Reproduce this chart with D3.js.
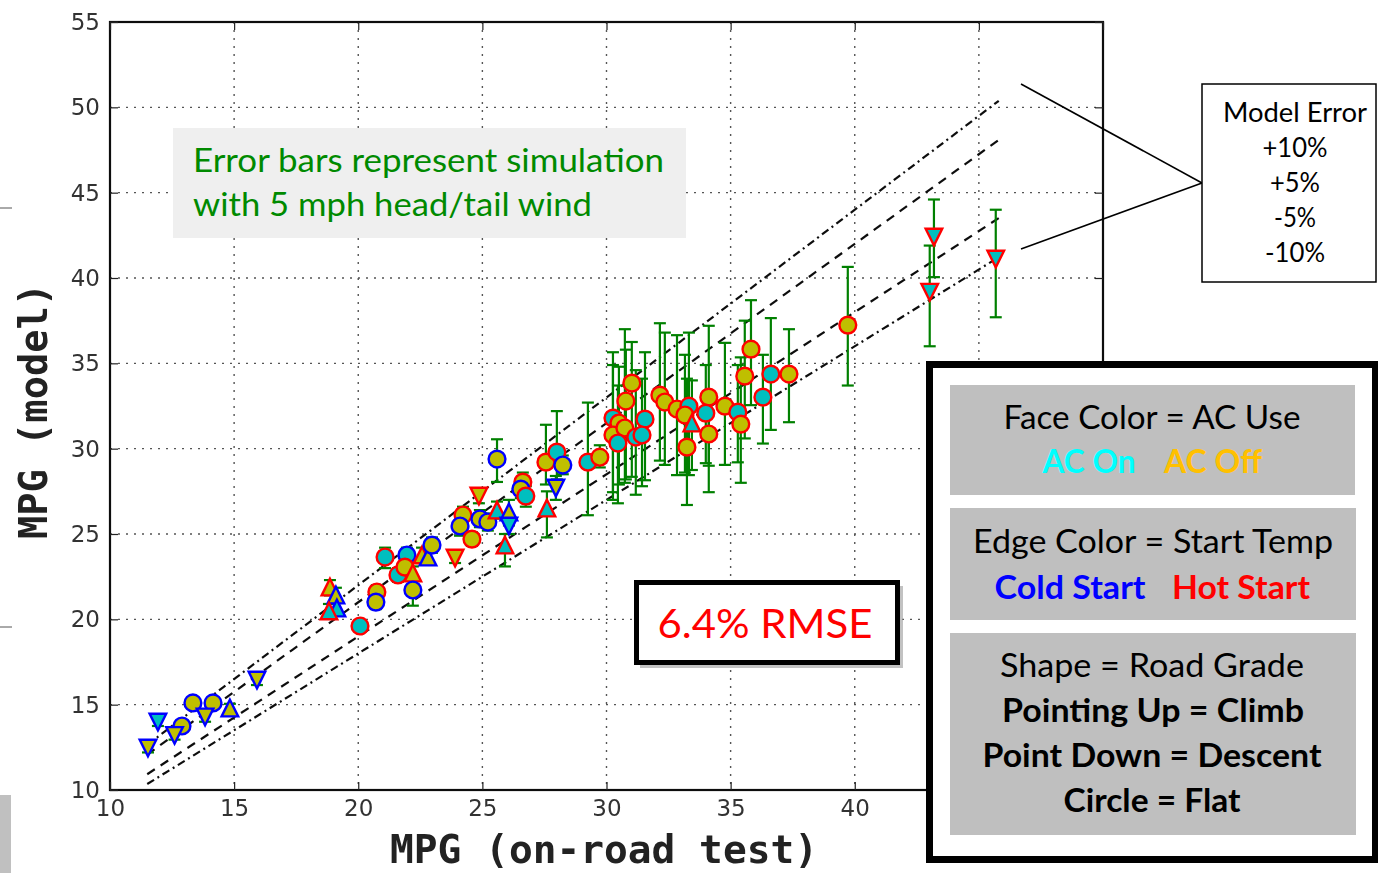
<!DOCTYPE html>
<html>
<head>
<meta charset="utf-8">
<script src="https://cdn.jsdelivr.net/npm/d3@7"></script>
<style>
  html, body { margin: 0; padding: 0; background: #ffffff; }
  svg { display: block; }
</style>
</head>
<body>
<svg id="chart" width="1378" height="873"></svg>
<script>
// On-road test MPG vs. model MPG, one entry per test run
const testMpg = [
  11.53, 11.93, 12.90, 12.60, 13.34, 14.15, 13.83, 14.83, 15.92,
  18.86, 19.10, 19.14, 18.82, 20.07, 20.75, 20.71, 21.08, 21.96, 21.60, 21.88, 22.20, 22.20, 22.57, 22.81, 22.97, 23.90,
  25.59, 24.86, 24.22, 24.10, 24.90, 25.22, 24.58, 25.59, 26.07, 26.07, 25.91, 26.63, 26.55, 26.75, 27.60, 27.96, 27.56, 28.00, 28.24, 29.25, 29.73,
  30.26, 30.50, 30.26, 30.74, 30.46, 31.02, 30.78, 31.55, 31.18, 31.43, 32.15, 32.35, 32.84, 33.32, 33.16, 33.44, 33.24,
  34.12, 34.00, 34.12, 34.77, 35.29, 35.41, 35.82, 35.57, 36.62, 36.30, 37.35, 39.72, 43.19, 43.02, 45.68
];
const modelMpg = [
  12.46, 13.98, 13.75, 13.20, 15.10, 15.10, 14.28, 14.80, 16.44,
  21.89, 21.42, 20.66, 20.49, 19.61, 21.60, 21.01, 23.65, 23.77, 22.60, 23.06, 22.71, 21.72, 23.77, 23.65, 24.35, 23.59,
  29.39, 27.22, 26.11, 25.47, 25.88, 25.70, 24.70, 26.40, 26.29, 25.47, 24.35, 28.04, 27.63, 27.22, 26.52, 27.69, 29.21, 29.80, 29.04, 29.21, 29.50,
  31.79, 31.50, 30.80, 31.21, 30.33, 33.84, 32.79, 31.73, 30.68, 30.80, 33.14, 32.73, 32.32, 32.49, 31.97, 31.50, 30.09,
  33.02, 32.08, 30.86, 32.49, 32.14, 31.44, 35.83, 34.25, 34.37, 33.02, 34.37, 37.24, 42.40, 39.17, 41.11
];
// Simulated MPG with a 5 mph head wind / tail wind (error bar ends)
const windLow = [
  12.20, 13.75, 13.50, 12.95, 14.85, 14.85, 14.00, 14.55, 16.15,
  21.40, 21.00, 20.30, 20.10, 19.30, 21.20, 20.60, 23.00, 23.30, 22.20, 22.60, 22.30, 20.80, 23.30, 23.20, 23.90, 23.30,
  28.05, 26.80, 25.60, 24.90, 25.40, 25.20, 24.30, 25.90, 25.50, 25.00, 23.10, 27.50, 27.10, 26.60, 24.80, 27.00, 27.90, 28.20, 28.50, 26.10, 28.90,
  27.45, 27.90, 27.00, 28.00, 26.80, 28.35, 28.20, 28.15, 27.30, 27.80, 29.30, 29.05, 28.45, 28.45, 28.60, 28.75, 26.70,
  27.45, 29.15, 29.00, 29.05, 29.20, 28.00, 32.55, 30.60, 31.10, 30.30, 31.55, 33.70, 40.05, 36.00, 37.70
];
const windHigh = [
  12.70, 14.20, 14.00, 13.45, 15.35, 15.35, 14.55, 15.05, 16.70,
  22.30, 21.85, 21.00, 20.90, 19.90, 22.00, 21.40, 24.20, 24.20, 23.00, 23.50, 23.10, 22.30, 24.20, 24.10, 24.80, 23.90,
  30.55, 27.60, 26.60, 26.00, 26.40, 26.20, 25.10, 26.90, 27.00, 26.00, 25.00, 28.60, 28.20, 27.80, 27.50, 28.40, 31.40, 32.20, 29.60, 32.70, 30.20,
  35.65, 34.80, 34.90, 37.00, 33.70, 36.25, 35.80, 35.65, 34.60, 34.10, 37.35, 36.80, 36.65, 36.80, 35.50, 34.00, 34.10,
  37.20, 34.90, 33.00, 36.20, 34.90, 35.35, 38.70, 37.50, 37.65, 35.50, 37.00, 40.65, 44.60, 41.90, 44.00
];
// Face colour: AC use
const acUse = [
  "off","on","off","off","off","off","off","off","off",
  "off","off","on","on","on","off","off","on","on","on","off","off","off","off","off","off","off",
  "off","off","off","off","off","off","off","on","off","on","on","off","off","on","on","off","off","on","off","on","off",
  "on","off","off","off","on","off","off","on","on","on","off","off","off","on","off","on","off",
  "off","on","off","off","on","off","off","off","on","on","off","off","on","on","on"
];
// Edge colour: start temperature
const startTemp = [
  "cold","cold","cold","cold","cold","cold","cold","cold","cold",
  "hot","cold","cold","hot","hot","hot","cold","hot","cold","hot","hot","hot","cold","hot","cold","cold","hot",
  "cold","hot","hot","cold","cold","cold","hot","hot","cold","cold","hot","hot","cold","hot","hot","cold","hot","hot","cold","hot","hot",
  "hot","hot","hot","hot","hot","hot","hot","hot","hot","hot","hot","hot","hot","hot","hot","hot","hot",
  "hot","hot","hot","hot","hot","hot","hot","hot","hot","hot","hot","hot","hot","hot","hot"
];
// Marker shape: road grade
const roadGrade = [
  "down","down","flat","down","flat","flat","down","up","down",
  "up","up","up","up","flat","flat","flat","flat","flat","flat","flat","up","flat","up","up","flat","down",
  "flat","down","flat","flat","flat","flat","flat","up","up","down","up","flat","flat","flat","up","down","flat","flat","flat","flat","flat",
  "flat","flat","flat","flat","flat","flat","flat","flat","flat","flat","flat","flat","flat","flat","flat","up","flat",
  "flat","flat","flat","flat","flat","flat","flat","flat","flat","flat","flat","flat","down","down","down"
];

// Model error guide lines
const errorBands = [
  { factor: 1.10, dash: "8,4,2,4" },
  { factor: 1.05, dash: "9,7" },
  { factor: 0.95, dash: "9,7" },
  { factor: 0.90, dash: "8,4,2,4" }
];
const bandRange = [11.5, 45.8];

const xTicks = [10, 15, 20, 25, 30, 35, 40];
const yTicks = [10, 15, 20, 25, 30, 35, 40, 45, 50, 55];

const faceColor = { on: "#00bfbf", off: "#bfbf00" };
const edgeColor = { cold: "#0000ff", hot: "#ff0000" };

const svg = d3.select("#chart");

// Soft rendering of the plotted figure
svg.append("defs").append("filter").attr("id", "soft")
  .attr("x", "-5%").attr("y", "-5%").attr("width", "110%").attr("height", "110%")
  .append("feGaussianBlur").attr("stdDeviation", 0.55);

// Small leftover strokes along the left page edge
svg.append("rect").attr("x", 0).attr("y", 795).attr("width", 11).attr("height", 78).attr("fill", "#c0c0c0");
svg.append("line").attr("x1", 0).attr("x2", 12).attr("y1", 208).attr("y2", 208).attr("stroke", "#555").attr("stroke-width", 1);
svg.append("line").attr("x1", 0).attr("x2", 12).attr("y1", 627).attr("y2", 627).attr("stroke", "#555").attr("stroke-width", 1);

const plotL = 110, plotR = 1103, plotT = 22, plotB = 790;
const x = d3.scaleLinear().domain([10, 50]).range([plotL, plotR]);
const y = d3.scaleLinear().domain([10, 55]).range([plotB, plotT]);

const plot = svg.append("g").attr("filter", "url(#soft)");

// Grid
const grid = plot.append("g").attr("stroke", "#555").attr("stroke-width", 1.4).attr("stroke-dasharray", "2,6");
grid.selectAll("line.gx").data(d3.range(15, 50, 5)).join("line").attr("class", "gx")
  .attr("x1", d => x(d)).attr("x2", d => x(d)).attr("y1", plotT).attr("y2", plotB);
grid.selectAll("line.gy").data(d3.range(15, 55, 5)).join("line").attr("class", "gy")
  .attr("x1", plotL).attr("x2", plotR).attr("y1", d => y(d)).attr("y2", d => y(d));

// Error guide lines
plot.append("g").selectAll("line").data(errorBands).join("line")
  .attr("x1", x(bandRange[0])).attr("x2", x(bandRange[1]))
  .attr("y1", d => y(bandRange[0] * d.factor)).attr("y2", d => y(bandRange[1] * d.factor))
  .attr("stroke", "#111").attr("stroke-width", 2.2).attr("stroke-dasharray", d => d.dash);

const idx = d3.range(testMpg.length);

// Wind error bars
const bars = plot.append("g").attr("stroke", "#008000").attr("stroke-width", 2.2);
idx.forEach(i => {
  const cx = x(testMpg[i]);
  bars.append("line").attr("x1", cx).attr("x2", cx).attr("y1", y(windLow[i])).attr("y2", y(windHigh[i]));
  [windLow[i], windHigh[i]].forEach(v => {
    bars.append("line").attr("x1", cx - 6).attr("x2", cx + 6).attr("y1", y(v)).attr("y2", y(v));
  });
});

// Markers
const h = 8.3;
const shapePath = {
  up: `M0,${-h}L${h},${h}L${-h},${h}Z`,
  down: `M0,${h}L${h},${-h}L${-h},${-h}Z`
};
const marks = plot.append("g");
idx.forEach(i => {
  const cx = x(testMpg[i]), cy = y(modelMpg[i]);
  const sel = roadGrade[i] === "flat"
    ? marks.append("circle").attr("cx", cx).attr("cy", cy).attr("r", 8.4)
    : marks.append("path").attr("d", shapePath[roadGrade[i]]).attr("transform", `translate(${cx},${cy})`);
  sel.attr("fill", faceColor[acUse[i]]).attr("stroke", edgeColor[startTemp[i]]).attr("stroke-width", 2.4);
});

// Frame
plot.append("rect").attr("x", plotL).attr("y", plotT).attr("width", plotR - plotL).attr("height", plotB - plotT)
  .attr("fill", "none").attr("stroke", "#111").attr("stroke-width", 2.2);

// Axes with inward ticks on all sides
const tickFont = g => g.selectAll("text").attr("font-family", "DejaVu Sans").attr("font-size", 23).attr("fill", "#333");
const xAxis = plot.append("g").attr("transform", `translate(0,${plotB})`)
  .call(d3.axisBottom(x).tickValues(xTicks).tickSizeInner(-8).tickSizeOuter(0).tickPadding(10));
xAxis.call(tickFont);
const yAxis = plot.append("g").attr("transform", `translate(${plotL},0)`)
  .call(d3.axisLeft(y).tickValues(yTicks).tickSizeInner(-8).tickSizeOuter(0).tickPadding(10));
yAxis.call(tickFont);
plot.append("g").attr("transform", `translate(0,${plotT})`)
  .call(d3.axisTop(x).tickValues(d3.range(10, 51, 5)).tickSizeInner(-8).tickSizeOuter(0).tickFormat(""));
plot.append("g").attr("transform", `translate(${plotR},0)`)
  .call(d3.axisRight(y).tickValues(yTicks).tickSizeInner(-8).tickSizeOuter(0).tickFormat(""));
plot.selectAll(".domain").remove();
plot.selectAll(".tick line").attr("stroke", "#222").attr("stroke-width", 1.2);

// Axis titles
plot.append("text").attr("x", 604).attr("y", 863).attr("text-anchor", "middle")
  .attr("font-family", "DejaVu Sans Mono").attr("font-weight", "bold").attr("font-size", 39).attr("fill", "#222")
  .attr("textLength", 428).attr("lengthAdjust", "spacingAndGlyphs")
  .text("MPG (on-road test)");
plot.append("text").attr("transform", "translate(47,411) rotate(-90)").attr("text-anchor", "middle")
  .attr("font-family", "DejaVu Sans Mono").attr("font-weight", "bold").attr("font-size", 39).attr("fill", "#222")
  .attr("textLength", 256).attr("lengthAdjust", "spacingAndGlyphs")
  .text("MPG (model)");

const calibri = "Lato, 'Open Sans', sans-serif";

// Wind note
svg.append("rect").attr("x", 173).attr("y", 128).attr("width", 513).attr("height", 110).attr("fill", "#efefef");
svg.append("text").attr("x", 193).attr("y", 172).attr("font-family", calibri).attr("font-size", 32).attr("fill", "#008a00")
  .attr("textLength", 471).attr("lengthAdjust", "spacingAndGlyphs").text("Error bars represent simulation");
svg.append("text").attr("x", 193).attr("y", 216).attr("font-family", calibri).attr("font-size", 32).attr("fill", "#008a00")
  .attr("textLength", 399).attr("lengthAdjust", "spacingAndGlyphs").text("with 5 mph head/tail wind");

// RMSE callout
svg.append("rect").attr("x", 640).attr("y", 586).attr("width", 263).attr("height", 82).attr("fill", "#9a9a9a").attr("opacity", 0.6);
svg.append("rect").attr("x", 636.5).attr("y", 582.5).attr("width", 261).attr("height", 80).attr("fill", "#fff")
  .attr("stroke", "#000").attr("stroke-width", 5);
svg.append("text").attr("x", 765).attr("y", 638).attr("text-anchor", "middle").attr("font-family", calibri)
  .attr("font-size", 40).attr("fill", "#ff0000").attr("textLength", 215).attr("lengthAdjust", "spacingAndGlyphs").text("6.4% RMSE");

// Model error key with pointer lines
svg.append("line").attr("x1", 1021).attr("y1", 84).attr("x2", 1202).attr("y2", 183).attr("stroke", "#000").attr("stroke-width", 1.6);
svg.append("line").attr("x1", 1021).attr("y1", 249).attr("x2", 1202).attr("y2", 183).attr("stroke", "#000").attr("stroke-width", 1.6);
svg.append("rect").attr("x", 1202).attr("y", 84).attr("width", 174).attr("height", 198).attr("fill", "#fff")
  .attr("stroke", "#000").attr("stroke-width", 1.5);
const keyLines = ["Model Error", "+10%", "+5%", "-5%", "-10%"];
const keyBase = [122, 157, 192, 227, 262];
const keyWidth = [144, 65, 50, 42, 60];
svg.append("g").selectAll("text").data(keyLines).join("text")
  .attr("x", 1295).attr("y", (d, i) => keyBase[i]).attr("text-anchor", "middle")
  .attr("font-family", calibri).attr("font-size", 26).attr("fill", "#000")
  .attr("textLength", (d, i) => keyWidth[i]).attr("lengthAdjust", "spacingAndGlyphs").text(d => d);

// Legend
svg.append("rect").attr("x", 929.5).attr("y", 364.5).attr("width", 446).attr("height", 495)
  .attr("fill", "#fff").attr("stroke", "#000").attr("stroke-width", 7);
[[950, 385, 405, 110], [950, 508, 406, 112], [950, 633, 406, 202]].forEach(([px, py, pw, ph]) => {
  svg.append("rect").attr("x", px).attr("y", py).attr("width", pw).attr("height", ph).attr("fill", "#bfbfbf");
});
const legendText = [
  { t: "Face Color = AC Use", x: 1152, y: 429, w: 297, c: "#000", b: false },
  { t: "AC On", x: 1089, y: 473, w: 93, c: "#00ffff", b: true },
  { t: "AC Off", x: 1213, y: 473, w: 98, c: "#ffc000", b: true },
  { t: "Edge Color = Start Temp", x: 1153, y: 553, w: 360, c: "#000", b: false },
  { t: "Cold Start", x: 1070, y: 599, w: 151, c: "#0000ff", b: true },
  { t: "Hot Start", x: 1241, y: 599, w: 138, c: "#ff0000", b: true },
  { t: "Shape = Road Grade", x: 1152, y: 677, w: 304, c: "#000", b: false },
  { t: "Pointing Up = Climb", x: 1153, y: 722, w: 302, c: "#000", b: true },
  { t: "Point Down = Descent", x: 1152, y: 767, w: 339, c: "#000", b: true },
  { t: "Circle = Flat", x: 1152, y: 812, w: 177, c: "#000", b: true }
];
svg.append("g").selectAll("text").data(legendText).join("text")
  .attr("x", d => d.x).attr("y", d => d.y).attr("text-anchor", "middle")
  .attr("font-family", calibri).attr("font-size", 32).attr("font-weight", d => d.b ? "bold" : "normal")
  .attr("fill", d => d.c).attr("textLength", d => d.w).attr("lengthAdjust", "spacingAndGlyphs").text(d => d.t);
</script>
</body>
</html>
